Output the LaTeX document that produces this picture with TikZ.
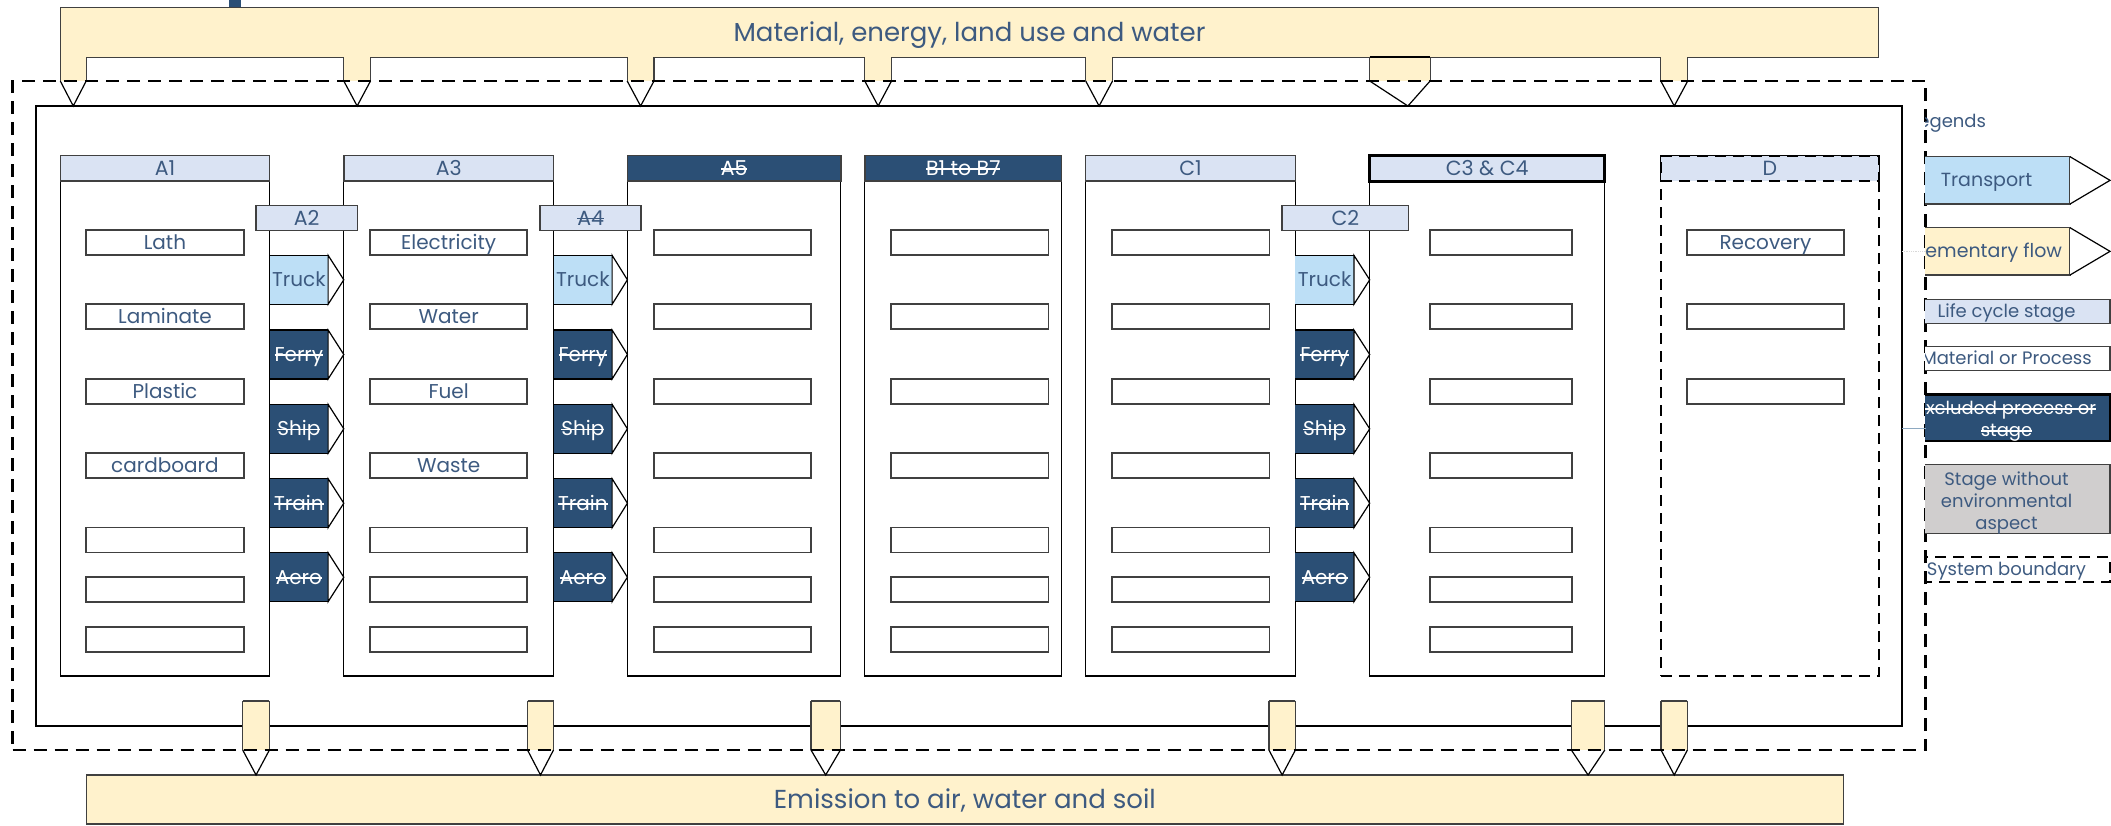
\documentclass[tikz,border=0pt]{standalone}
\usepackage{fontspec}
\setmainfont{Poppins}
\usepackage{tikz}
\usetikzlibrary{calc}

\newsavebox{\strkbox}
\newcommand{\strk}[1]{\sbox{\strkbox}{#1}\rlap{\usebox{\strkbox}}\rule[0.28em]{\wd\strkbox}{1.5pt}}

\definecolor{flowyellow}{HTML}{FFF2CC}
\definecolor{stagelav}{HTML}{DAE3F3}
\definecolor{truckblue}{HTML}{BDDFF6}
\definecolor{exblue}{HTML}{2B4F75}
\definecolor{txtblue}{HTML}{3D5A80}
\definecolor{nogray}{HTML}{D0CECE}
\definecolor{linegray}{HTML}{404040}
\definecolor{stubblue}{HTML}{8EA9C1}

\begin{document}
\begin{tikzpicture}[x=1pt, y=-1pt, inner sep=0pt, outer sep=0pt,
    every node/.style={text=txtblue},
    flowbar/.style={draw=linegray, line width=1.3pt, fill=flowyellow, anchor=north west,
        font=\fontsize{26}{30}\selectfont, text height=20pt, text depth=2pt},
    stagecol/.style={draw=black, line width=1.3pt, fill=white, anchor=north west, minimum height=520.3pt},
    stagehead/.style={draw=linegray, line width=1.5pt, fill=stagelav, anchor=north west, minimum height=25.3pt,
        font=\fontsize{20.5}{22}\selectfont, text height=16.2pt, text depth=2pt},
    exhead/.style={stagehead, fill=exblue, text=white},
    matbox/.style={draw=linegray, line width=1.8pt, fill=white, anchor=north west, minimum width=157.5pt,
        minimum height=25pt, font=\fontsize{20}{22}\selectfont, text height=16pt, text depth=2pt},
    trbody/.style={anchor=north west, minimum width=58.5pt, minimum height=49pt,
        font=\fontsize{20}{22}\selectfont, text height=16pt, text depth=2pt},
    trtruck/.style={trbody, fill=truckblue},
    trex/.style={trbody, fill=exblue, text=white},
    tipline/.style={draw=black, line width=1.2pt, fill=white},
    tabedge/.style={draw=linegray, line width=1.2pt},
    flowtab/.style={fill=flowyellow, anchor=north west},
    sysdash/.style={draw=black, line width=2.6pt, dash pattern=on 13pt off 8pt},
    ddash/.style={draw=black, line width=2.4pt, dash pattern=on 11pt off 7pt},
    legfont/.style={font=\fontsize{18}{22.2}\selectfont},
    legbox/.style={legfont, anchor=north west, minimum width=207pt, text height=14.5pt, text depth=2pt},
    legtip/.style={anchor=north west, minimum width=167pt, minimum height=47.3pt, draw=linegray, line width=1.3pt,
        font=\fontsize{19}{21}\selectfont, text height=15.2pt, text depth=2pt}
]
    \useasboundingbox (0,0) rectangle (2111,825);

    % flows in and out
    \node[flowbar, minimum width=1818.5pt, minimum height=50pt] (mat_bar) at (60.3,7.3)
    {Material, energy, land use and water};
    \node[flowbar, minimum width=1757.1pt, minimum height=49pt] (em_bar) at (86.3,775)
    {Emission to air, water and soil};
    \fill[exblue] (229,0) rectangle (241,7);

    % product system
    \node[draw=black, line width=2.6pt, anchor=north west, minimum width=1866pt, minimum height=620pt]
    (sys_in) at (36,106) {};

    % life cycle stages
    \node[stagecol, minimum width=209.3pt] (a1_col) at (60.3,155.7) {};
    \node[stagehead, minimum width=209.3pt] (a1_head) at (60.3,155.7) {A1};
    \node[stagecol, minimum width=209.8pt] (a3_col) at (343.8,155.7) {};
    \node[stagehead, minimum width=209.8pt] (a3_head) at (343.8,155.7) {A3};
    \node[stagecol, minimum width=213.4pt] (a5_col) at (627.4,155.7) {};
    \node[exhead, minimum width=213.4pt] (a5_head) at (627.4,155.7) {\strk{A5}};
    \node[stagecol, minimum width=196.9pt] (b_col) at (864.8,155.7) {};
    \node[exhead, minimum width=196.9pt] (b_head) at (864.8,155.7) {\strk{B1 to B7}};
    \node[stagecol, minimum width=209.7pt] (c1_col) at (1085.7,155.7) {};
    \node[stagehead, minimum width=209.7pt] (c1_head) at (1085.7,155.7) {C1};
    \node[stagecol, minimum width=235pt] (c34_col) at (1369.7,155.7) {};
    \node[stagehead, draw=black, line width=3pt, minimum width=235pt] (c34_head) at (1369.7,155.7) {C3 \& C4};
    \node[stagecol, ddash, minimum width=218pt] (d_col) at (1660.8,155.7) {};
    \node[stagehead, ddash, minimum width=218pt] (d_head) at (1660.8,155.7) {D};

    % transport stages
    \node[stagehead, minimum width=101.8pt, minimum height=24.6pt] (a2_head) at (255.8,205.7) {A2};
    \node[stagehead, minimum width=100.9pt, minimum height=24.6pt] (a4_head) at (540.2,205.7) {\strk{A4}};
    \node[stagehead, minimum width=126.7pt, minimum height=24.6pt] (c2_head) at (1282,205.7) {C2};

    % materials and processes
    \foreach \y/\t [count=\i] in {230/Lath, 304.3/Laminate, 378.7/Plastic, 453.2/cardboard, 527.5/, 577/, 627/}
        \node[matbox] (a1_m\i) at (86.2,\y) {\t};
    \foreach \y/\t [count=\i] in {230/Electricity, 304.3/Water, 378.7/Fuel, 453.2/Waste, 527.5/, 577/, 627/}
        \node[matbox, minimum width=157.1pt] (a3_m\i) at (370.1,\y) {\t};
    \foreach \nm/\x/\w in {a5/653.6/157.6, b/890.8/157.7, c1/1111.7/157.7, c34/1429.6/142.2}
        \foreach \y [count=\i] in {230,304.3,378.7,453.2,527.5,577,627}
            \node[matbox, minimum width=\w pt] (\nm_m\i) at (\x,\y) {};
    \foreach \y/\t [count=\i] in {230/Recovery, 304.3/, 378.7/}
        \node[matbox, minimum width=157.6pt] (d_m\i) at (1686.6,\y) {\t};

    % transport modes
    \foreach \src/\dst in {a1/a3, a3/a5, c1/c34}
        \foreach \md/\dy/\st/\t in {truck/99.6/trtruck/Truck, ferry/174.3/trex/\strk{Ferry},
            ship/248.6/trex/\strk{Ship}, train/323/trex/\strk{Train}, aero/397/trex/\strk{Aero}} {
            \node[\st] (\src_\md) at ($(\src_col.north east)+(0,\dy)$) {\t};
            \filldraw[tipline] (\src_\md.north east) -- (\src_\md.east -| \dst_col.west)
                -- (\src_\md.south east) -- cycle;
            \draw[tabedge, draw=black] (\src_\md.north west) -- (\src_\md.north east)
                (\src_\md.south west) -- (\src_\md.south east);
        }

    % inflows
    \foreach \n/\x/\w/\s in {1/60.3/25.9/0, 2/343.8/26.7/0, 3/627.2/26.8/0, 4/864.8/26.7/0,
        5/1085.7/26.8/0, 6/1369.7/60.4/8, 7/1660.8/26.9/0} {
        \node[flowtab, minimum width=\w pt, minimum height=23.7pt] (in\n) at (\x,57.3) {};
        \filldraw[tipline] (in\n.south west) -- ($(in\n.south |- sys_in.north)+(\s,0)$) -- (in\n.south east);
        \draw[tabedge] (in\n.south west) -- (in\n.north west) (in\n.north east) -- (in\n.south east);
    }
    \draw[line width=2.2pt] (in6.north west) -- (in6.north east);

    % outflows
    \foreach \n/\x/\w in {1/242.7/26.7, 2/527.5/26, 3/811/29.4, 4/1268.9/26.5, 5/1571.3/33.5, 6/1661/26.4} {
        \node[flowtab, minimum width=\w pt, minimum height=49.3pt] (out\n) at (\x,700.7) {};
        \filldraw[tipline] (out\n.south west) -- (out\n.south |- em_bar.north) -- (out\n.south east);
        \draw[tabedge] (out\n.south west) -- (out\n.north west) (out\n.north east) -- (out\n.south east);
        \draw[line width=2.2pt, linegray] (out\n.north west) -- (out\n.north east);
    }

    % system boundary
    \node[sysdash, anchor=north west, minimum width=1913pt, minimum height=669pt] (sys_out) at (12.5,81) {};

    % legends
    \begin{scope}
        \clip (1925,0) rectangle (2111,825);
        \node[legbox, anchor=east, minimum width=0pt] (leg_title) at (1986,121.7) {Legends};
        \node[legtip, fill=truckblue] (leg_tr) at (1903,156.7) {Transport};
        \filldraw[tipline] (leg_tr.north east) -- ($(leg_tr.east)+(40,0)$) -- (leg_tr.south east);
        \node[legtip, fill=flowyellow] (leg_el) at (1903,227.7) {Elementary flow};
        \filldraw[tipline] (leg_el.north east) -- ($(leg_el.east)+(40,0)$) -- (leg_el.south east);
        \node[legbox, draw=linegray, line width=1.5pt, fill=stagelav, minimum height=24pt] (leg_lc) at (1903,299.3)
        {Life cycle stage};
        \node[legbox, draw=linegray, line width=1.5pt, fill=white, minimum height=24pt] (leg_mp) at (1903,346.7)
        {Material or Process};
        \node[legbox, draw=black, line width=2.6pt, fill=exblue, minimum height=46.7pt] (leg_ex) at (1903,394.3) {};
        \node[legfont, text=white, align=center] (leg_ex_txt) at ($(leg_ex.center)+(0,4)$)
        {\strk{Excluded process or}\\\strk{stage}};
        \node[legbox, draw=linegray, line width=1.5pt, fill=nogray, minimum height=69pt] (leg_no) at (1903,464.3) {};
        \node[legfont, align=center] (leg_no_txt) at ($(leg_no.center)+(0,4)$)
        {Stage without\\environmental\\aspect};
        \node[legbox, ddash, line width=2pt, minimum height=25pt] (leg_sb) at (1903,556.7) {System boundary};
    \end{scope}

    % stubs
    \draw[line width=1pt, stubblue] ($(leg_ex.south west -| sys_in.east)+(0,-12.7)$)
        -- ($(leg_ex.south west -| sys_out.east)+(0,-12.7)$);
    \draw[line width=0.8pt, black!15, densely dotted] (leg_el.west -| sys_in.east) -- (leg_el.west -| sys_out.east);

\end{tikzpicture}
\end{document}
